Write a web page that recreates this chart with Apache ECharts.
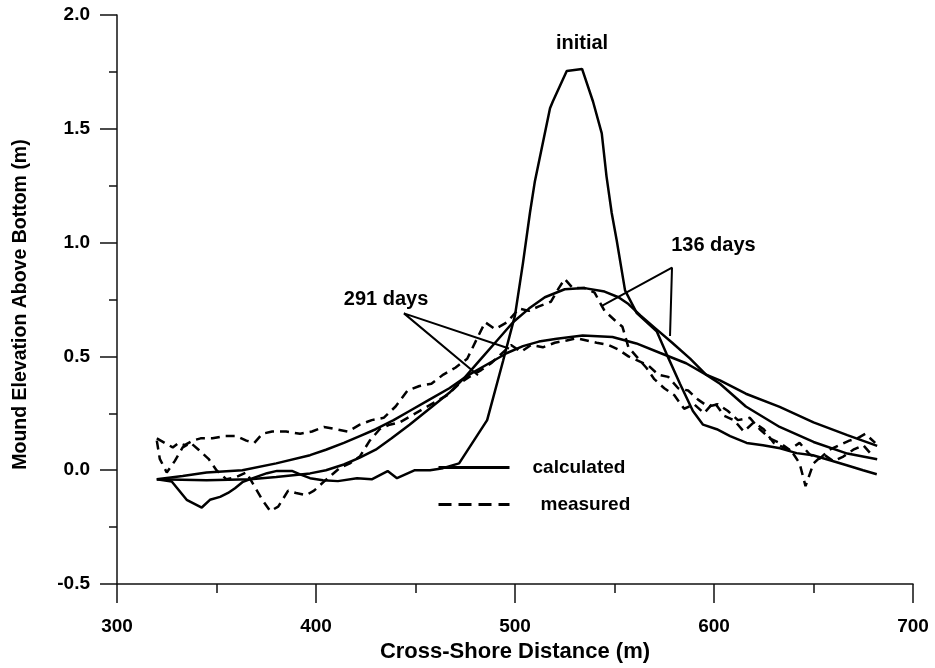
<!DOCTYPE html>
<html>
<head>
<meta charset="utf-8">
<script src="https://cdn.jsdelivr.net/npm/echarts@6/dist/echarts.min.js"></script>
<style>
html,body{margin:0;padding:0;background:#fff;}
#chart{width:935px;height:668px;}
</style>
</head>
<body>
<div id="chart"></div>
<script>
// ---- data (cross-shore distance m, elevation m) ----
var initialCalc = [[320,-0.04],[327.5,-0.05],[335,-0.13],[342.6,-0.164],[346.7,-0.13],[351.8,-0.117],[355.8,-0.10],[359.3,-0.079],[363.3,-0.051],[368.3,-0.035],[375.4,-0.013],[380.4,-0.003],[387.9,-0.003],[392,-0.018],[397,-0.035],[403.5,-0.044],[411,-0.048],[420.6,-0.035],[428,-0.04],[436,-0.004],[440.7,-0.035],[449.7,0],[457.3,0],[463.8,0.009],[471.9,0.03],[486,0.22],[494,0.48],[500,0.68],[504,0.91],[507.5,1.13],[510,1.27],[517.6,1.59],[519,1.62],[526,1.754],[533.7,1.763],[539.2,1.62],[543.6,1.48],[546,1.29],[548.6,1.13],[551.1,1.01],[555.3,0.79],[561.2,0.69],[571.2,0.61],[576.2,0.51],[582.9,0.38],[589.4,0.26],[594.5,0.20],[601.4,0.18],[608.1,0.15],[616.4,0.12],[624.6,0.11],[633.2,0.096],[641.5,0.075],[649.7,0.066],[658.3,0.044],[666.7,0.022],[674.9,0],[681.8,-0.018]];

var calc136 = [[320,-0.04],[345,-0.044],[367,-0.04],[380,-0.03],[397,-0.014],[405,0.0],[414,0.025],[422,0.055],[430,0.09],[438,0.14],[447,0.20],[457,0.27],[467,0.34],[475,0.41],[483,0.49],[491,0.57],[499,0.65],[507,0.71],[515,0.76],[525,0.795],[535,0.80],[545,0.785],[552,0.76],[557,0.73],[563,0.68],[571,0.62],[579,0.56],[588,0.49],[596,0.42],[603,0.38],[616,0.28],[633,0.19],[650,0.124],[667,0.073],[682,0.048]];

var calc291 = [[320,-0.04],[333,-0.025],[345,-0.01],[363,0.0],[380,0.03],[397,0.066],[405,0.09],[414,0.12],[422,0.15],[430,0.18],[439,0.22],[447,0.26],[457,0.31],[467,0.36],[477,0.42],[487,0.47],[496,0.515],[504,0.545],[512,0.565],[521,0.578],[534,0.592],[549,0.585],[561,0.557],[573,0.515],[586,0.47],[596,0.42],[603,0.395],[616,0.336],[633,0.278],[650,0.21],[667,0.154],[682,0.107]];

var meas136 = [[320,0.14],[324,0.12],[328,0.10],[331,0.12],[334,0.11],[338,0.13],[342,0.14],[348,0.14],[354,0.15],[360,0.15],[365,0.13],[369,0.12],[373,0.16],[378,0.17],[385,0.17],[392,0.16],[398,0.17],[404,0.19],[410,0.18],[416,0.17],[422,0.20],[428,0.22],[434,0.23],[440,0.28],[446,0.35],[452,0.37],[458,0.38],[464,0.42],[470,0.45],[476,0.49],[481,0.58],[485,0.65],[490,0.62],[496,0.65],[502,0.71],[507,0.70],[512,0.72],[518,0.74],[522,0.80],[525,0.84],[529,0.80],[535,0.80],[540,0.78],[545,0.70],[550,0.66],[554,0.63],[557,0.54],[561,0.50],[566,0.45],[570,0.40],[575,0.36],[580,0.33],[585,0.27],[590,0.29],[595,0.25],[600,0.30],[605,0.24],[610,0.22],[615,0.17],[620,0.21],[625,0.18],[630,0.12],[635,0.10],[640,0.07],[643,0.03],[646,-0.07],[650,0.03],[655,0.07],[660,0.04],[665,0.06],[670,0.09],[675,0.11],[680,0.06]];

var meas291 = [[320,0.13],[321.5,0.05],[325,-0.01],[329,0.04],[333,0.10],[337,0.12],[341,0.09],[346,0.05],[350,0.0],[355,-0.04],[360,-0.03],[365,-0.01],[369,-0.07],[373,-0.13],[377,-0.18],[381,-0.16],[386,-0.09],[390,-0.10],[395,-0.11],[399,-0.09],[404,-0.05],[408,-0.02],[412,0.01],[417,0.03],[422,0.06],[427,0.13],[432,0.18],[437,0.20],[442,0.21],[448,0.24],[454,0.27],[460,0.30],[466,0.33],[472,0.38],[477,0.41],[483,0.44],[488,0.47],[493,0.51],[498,0.55],[503,0.52],[508,0.55],[514,0.54],[520,0.56],[526,0.57],[531,0.58],[536,0.57],[541,0.56],[547,0.55],[552,0.53],[557,0.50],[562,0.48],[567,0.46],[572,0.42],[577,0.41],[582,0.36],[587,0.35],[592,0.31],[597,0.28],[602,0.29],[607,0.26],[612,0.22],[618,0.23],[623,0.18],[628,0.14],[633,0.12],[638,0.09],[643,0.12],[648,0.07],[653,0.05],[658,0.09],[663,0.11],[668,0.13],[672,0.14],[676,0.16],[681,0.12]];

// annotation pointers (data coordinates)
var pointer291 = [[481.4,0.417],[444.2,0.689],[497,0.535]];
var pointer136 = [[543.2,0.72],[578.9,0.89],[577.9,0.59]];
// annotation texts
var annotationNames = ['initial','136 days','291 days'];
var annotationPos = [[533.7,1.877],[599.7,0.987],[435.2,0.752]];

var FONT = '"Liberation Sans", Arial, Helvetica, sans-serif';
var chart = echarts.init(document.getElementById('chart'), null, {renderer:'canvas'});

function solid(data){
  return {name:'calculated', type:'line', data:data, symbol:'none', smooth:false, silent:true,
    lineStyle:{color:'#000', width:2.5, type:'solid'}, itemStyle:{color:'#000'}, z:3};
}
function dashed(data){
  return {name:'measured', type:'line', data:data, symbol:'none', smooth:false, silent:true,
    lineStyle:{color:'#000', width:2.5, type:[9,6]}, itemStyle:{color:'#000'}, z:2};
}
function pointer(data){
  return {name:'pointer', type:'line', data:data, symbol:'none', silent:true,
    lineStyle:{color:'#000', width:2}, z:4};
}

var annotations = annotationNames.map(function(n,i){ return {name:n, value:annotationPos[i]}; });

var option = {
  backgroundColor:'#fff',
  animation:false,
  grid:{left:117, right:22, top:15, bottom:82, containLabel:false},
  legend:{
    data:[
      {name:'calculated', itemStyle:{opacity:0}, lineStyle:{type:'solid', width:3, color:'#000', opacity:1}},
      {name:'measured', itemStyle:{opacity:0}, lineStyle:{type:[13,7], width:3, color:'#000', opacity:1}}
    ],
    orient:'vertical', left:437, top:458, padding:0,
    itemWidth:71, itemHeight:16, itemGap:18,
    selectedMode:false,
    formatter:function(n){ return n==='calculated' ? '{c|calculated}' : '{m|measured}'; },
    textStyle:{fontFamily:FONT, fontSize:19, fontWeight:'bold', color:'#000',
      rich:{
        c:{fontFamily:FONT, fontSize:19, fontWeight:'bold', color:'#000', padding:[0,0,0,18]},
        m:{fontFamily:FONT, fontSize:19, fontWeight:'bold', color:'#000', padding:[0,0,0,26]}
      }}
  },
  xAxis:{
    type:'value', min:300, max:700, interval:100,
    name:'Cross-Shore Distance (m)', nameLocation:'middle', nameGap:57,
    nameTextStyle:{fontFamily:FONT, fontSize:22, fontWeight:'bold', color:'#000'},
    axisLine:{show:true, onZero:false, lineStyle:{color:'#111', width:1.5}},
    axisTick:{show:true, inside:false, length:19, lineStyle:{color:'#111', width:1.5}},
    minorTick:{show:true, splitNumber:2, length:9, lineStyle:{color:'#111', width:1.5}},
    splitLine:{show:false},
    axisLabel:{margin:33, fontFamily:FONT, fontSize:19, fontWeight:'bold', color:'#000'}
  },
  yAxis:{
    type:'value', min:-0.5, max:2.0, interval:0.5,
    name:'Mound Elevation Above Bottom (m)', nameLocation:'middle', nameGap:86, nameRotate:90,
    nameTextStyle:{fontFamily:FONT, fontSize:19.5, fontWeight:'bold', color:'#000', padding:[0,10,0,0]},
    axisLine:{show:true, onZero:false, lineStyle:{color:'#111', width:1.5}},
    axisTick:{show:true, inside:false, length:17, lineStyle:{color:'#111', width:1.5}},
    minorTick:{show:true, splitNumber:2, length:8, lineStyle:{color:'#111', width:1.5}},
    splitLine:{show:false},
    axisLabel:{margin:27, fontFamily:FONT, fontSize:19, fontWeight:'bold', color:'#000',
      formatter:function(v){ return v.toFixed(1); }}
  },
  series:[
    solid(initialCalc),
    solid(calc136),
    solid(calc291),
    dashed(meas136),
    dashed(meas291),
    pointer(pointer291),
    pointer(pointer136),
    {name:'labels', type:'scatter', data:annotations, symbolSize:0, silent:true,
      itemStyle:{opacity:1, color:'#000'},
      label:{show:true, position:'inside', formatter:'{b}', fontFamily:FONT, fontSize:20, fontWeight:'bold',
        color:'#000', opacity:1, textBorderWidth:0}}
  ]
};
chart.setOption(option);
</script>
</body>
</html>
